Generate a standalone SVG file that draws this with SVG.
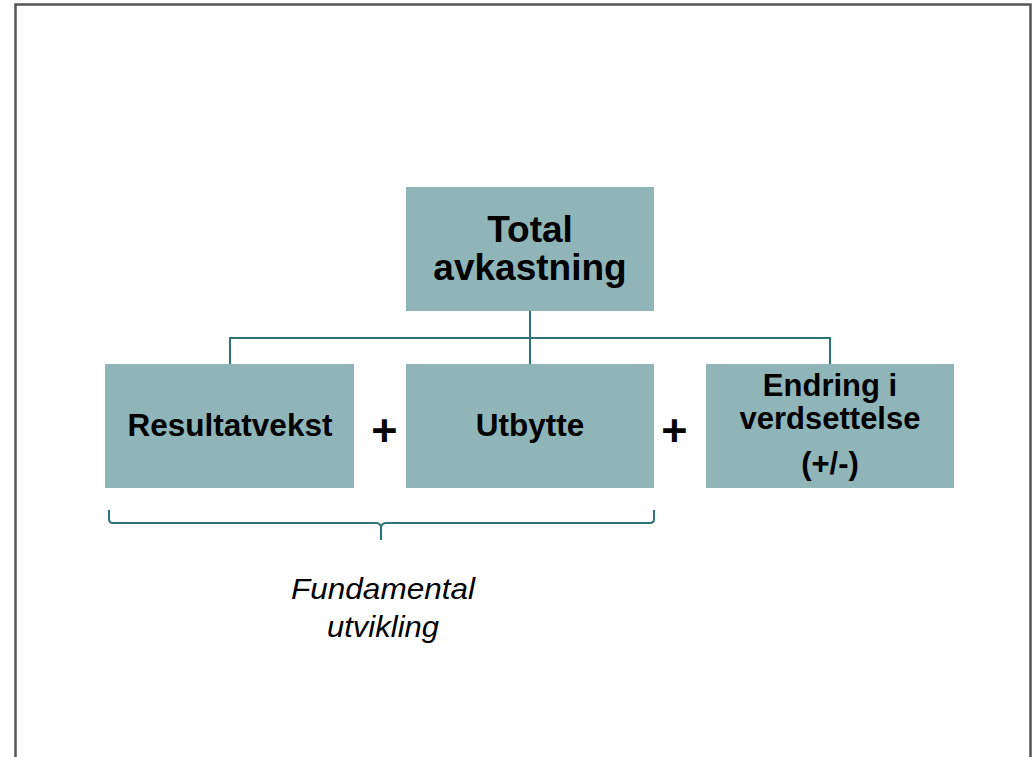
<svg xmlns="http://www.w3.org/2000/svg" width="1032" height="757" viewBox="0 0 1032 757">
<style>
.box{fill:#8fb5b8}
.t{font-family:"Liberation Sans",Arial,sans-serif;font-weight:bold;fill:#000;text-anchor:middle}
.i{font-family:"Liberation Sans",Arial,sans-serif;font-style:italic;font-size:30px;fill:#000;text-anchor:middle}
.c{fill:none;stroke:#2b7377;stroke-width:2}
</style>
<rect x="0" y="0" width="1032" height="757" fill="#fff"/>
<path d="M15.5,757 V4.5 H1030.5 V757" fill="none" stroke="#555" stroke-width="2.5"/>
<g id="connectors">
<path class="c" d="M530,311 V364 M230,364 V338 H830 V364"/>
<path class="c" d="M109,510 V519 Q109,523 113,523 H376 Q380,523 381,527 V540 M381,540 V527 Q382,523 386,523 H650 Q654,523 654,519 V510"/>
</g>
<g id="total"><rect class="box" x="406" y="187" width="248" height="124"/>
<text class="t" font-size="37" x="530" y="242">Total</text><text class="t" font-size="37" x="530" y="280">avkastning</text></g>
<g id="resultatvekst"><rect class="box" x="105" y="364" width="249" height="124"/>
<text class="t" font-size="31.5" x="230" y="436">Resultatvekst</text></g>
<g id="utbytte"><rect class="box" x="406" y="364" width="248" height="124"/>
<text class="t" font-size="31.5" x="530" y="436">Utbytte</text></g>
<g id="endring"><rect class="box" x="706" y="364" width="248" height="124"/>
<text class="t" font-size="31" x="830" y="396">Endring i</text><text class="t" font-size="31" x="830" y="429">verdsettelse</text><text class="t" font-size="31" x="830" y="474">(+/-)</text></g>
<g id="plus1"><text class="t" font-size="45" x="384.5" y="446">+</text></g>
<g id="plus2"><text class="t" font-size="45" x="674.5" y="446">+</text></g>
<g id="fundamental">
<text class="i" x="383" y="599" textLength="184" lengthAdjust="spacingAndGlyphs">Fundamental</text>
<text class="i" x="383" y="637" textLength="112" lengthAdjust="spacingAndGlyphs">utvikling</text></g>
</svg>
